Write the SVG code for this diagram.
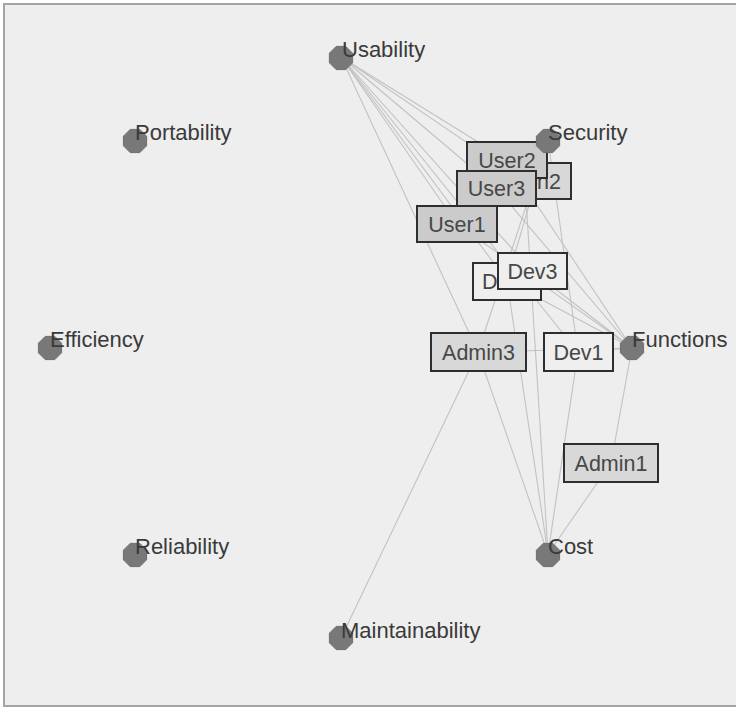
<svg xmlns="http://www.w3.org/2000/svg" width="736" height="707" viewBox="0 0 736 707">
<style>
.lbl{font-family:"Liberation Sans",Arial,sans-serif;font-size:22px;fill:#3a3a3a}
.bt{font-family:"Liberation Sans",Arial,sans-serif;font-size:21.5px;fill:#474747;text-anchor:middle}
.oct{fill:#787878;stroke:#6e6e6e;stroke-width:1}
.box{stroke:#2e2e2e;stroke-width:2}
.user{fill:#cbcbcb}
.admin{fill:#d8d8d8}
.dev{fill:#efefef}
#edges line{stroke:#c2c2c2;stroke-width:1.1}
</style>
<defs>
<polygon id="o" points="11.6,4.8 4.8,11.6 -4.8,11.6 -11.6,4.8 -11.6,-4.8 -4.8,-11.6 4.8,-11.6 11.6,-4.8"/>
</defs>
<rect x="0" y="0" width="736" height="707" fill="#ffffff"/>
<rect x="4" y="4" width="740" height="702" fill="#eeeeee" stroke="#a4a4a4" stroke-width="2"/>
<g id="edges">
<line x1="341" y1="57" x2="507" y2="160"/>
<line x1="341" y1="57" x2="497" y2="189"/>
<line x1="341" y1="57" x2="457" y2="224"/>
<line x1="341" y1="57" x2="478" y2="352"/>
<line x1="341" y1="57" x2="507" y2="281"/>
<line x1="341" y1="57" x2="532" y2="271"/>
<line x1="341" y1="57" x2="578" y2="352"/>
<line x1="341" y1="57" x2="525" y2="182"/>
<line x1="548" y1="140" x2="478" y2="352"/>
<line x1="548" y1="140" x2="578" y2="352"/>
<line x1="548" y1="140" x2="507" y2="281"/>
<line x1="632" y1="348" x2="457" y2="224"/>
<line x1="632" y1="348" x2="497" y2="189"/>
<line x1="632" y1="348" x2="507" y2="160"/>
<line x1="632" y1="348" x2="507" y2="281"/>
<line x1="632" y1="348" x2="532" y2="271"/>
<line x1="632" y1="348" x2="478" y2="352"/>
<line x1="632" y1="348" x2="578" y2="352"/>
<line x1="632" y1="348" x2="611" y2="463"/>
<line x1="548" y1="554" x2="611" y2="463"/>
<line x1="548" y1="554" x2="578" y2="352"/>
<line x1="548" y1="554" x2="525" y2="182"/>
<line x1="548" y1="554" x2="507" y2="281"/>
<line x1="548" y1="554" x2="478" y2="352"/>
<line x1="341" y1="638" x2="478" y2="352"/>
</g>
<g id="Admin2"><rect class="box admin" x="478" y="163" width="93" height="36"/><text class="bt" x="524.5" y="189">Admin2</text></g>
<g id="User2"><rect class="box user" x="467" y="142" width="80" height="36"/><text class="bt" x="507" y="168">User2</text></g>
<g id="User3"><rect class="box user" x="457" y="171" width="79" height="35"/><text class="bt" x="496.5" y="196">User3</text></g>
<g id="User1"><rect class="box user" x="417" y="206" width="80" height="36"/><text class="bt" x="457" y="232">User1</text></g>
<g id="Dev2"><rect class="box dev" x="473" y="263" width="68" height="37"/><text class="bt" x="507" y="289">Dev2</text></g>
<g id="Dev3"><rect class="box dev" x="498" y="253" width="69" height="36"/><text class="bt" x="532.5" y="279">Dev3</text></g>
<g id="Admin3"><rect class="box admin" x="431" y="333" width="95" height="38"/><text class="bt" x="478.5" y="360">Admin3</text></g>
<g id="Dev1"><rect class="box dev" x="544" y="333" width="69" height="38"/><text class="bt" x="578.5" y="360">Dev1</text></g>
<g id="Admin1"><rect class="box admin" x="564" y="444" width="94" height="38"/><text class="bt" x="611" y="471">Admin1</text></g>
<g id="Usability"><use href="#o" class="oct" x="341" y="58"/><text class="lbl" x="342" y="57">Usability</text></g>
<g id="Security"><use href="#o" class="oct" x="548" y="141"/><text class="lbl" x="548" y="140">Security</text></g>
<g id="Portability"><use href="#o" class="oct" x="135" y="141"/><text class="lbl" x="135" y="140">Portability</text></g>
<g id="Efficiency"><use href="#o" class="oct" x="50" y="348"/><text class="lbl" x="50" y="347">Efficiency</text></g>
<g id="Functions"><use href="#o" class="oct" x="632" y="348"/><text class="lbl" x="632" y="347">Functions</text></g>
<g id="Reliability"><use href="#o" class="oct" x="135" y="555"/><text class="lbl" x="135" y="554">Reliability</text></g>
<g id="Cost"><use href="#o" class="oct" x="548" y="555"/><text class="lbl" x="548" y="554">Cost</text></g>
<g id="Maintainability"><use href="#o" class="oct" x="341" y="638"/><text class="lbl" x="341" y="638">Maintainability</text></g>
</svg>
